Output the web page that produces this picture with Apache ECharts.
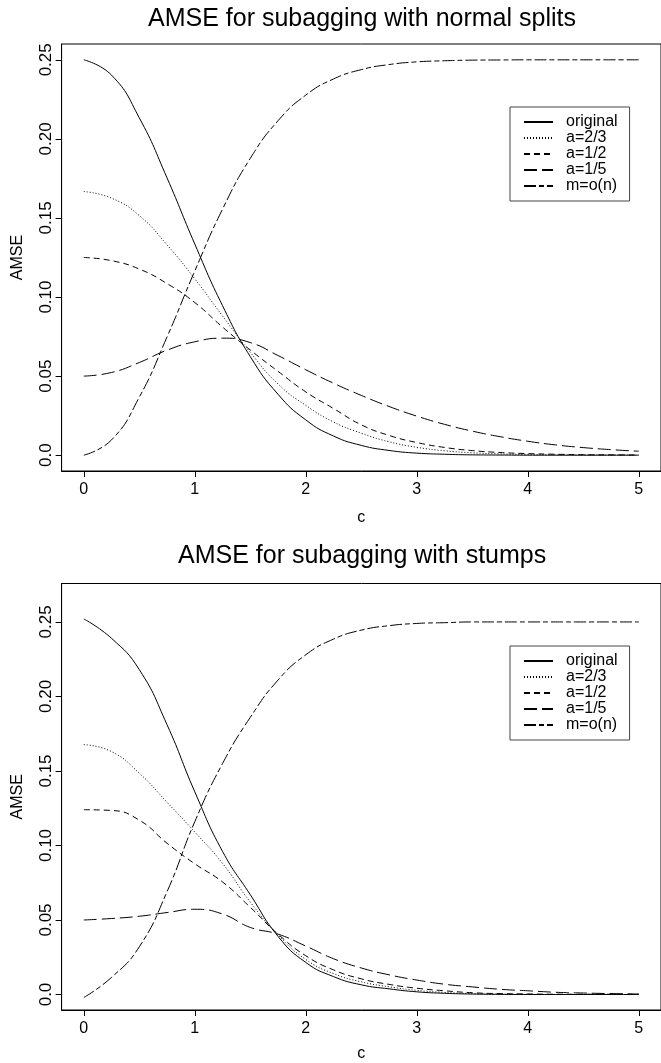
<!DOCTYPE html>
<html>
<head>
<meta charset="utf-8">
<style>
  html, body { margin: 0; padding: 0; background: #fff; }
  #chart { width: 661px; height: 1063px; }
</style>
</head>
<body>
<div id="chart"></div>
<script src="https://cdn.jsdelivr.net/npm/echarts@6/dist/echarts.min.js"></script>
<script>
"use strict";
// c grid, step 0.25
var cs = [0, 0.25, 0.5, 0.75, 1, 1.25, 1.5, 1.75, 2, 2.25, 2.5, 2.75, 3, 3.25, 3.5, 3.75, 4, 4.25, 4.5, 4.75, 5];
var xTicks = [0, 1, 2, 3, 4, 5];
var yTicks = [0, 0.05, 0.1, 0.15, 0.2, 0.25];
var names = ['original', 'a=2/3', 'a=1/2', 'a=1/5', 'm=o(n)'];

// normal splits (top)
var splitOrig = [0.2500, 0.2403, 0.2133, 0.1753, 0.1335, 0.0945, 0.0623, 0.0385, 0.0223, 0.0121, 0.0062, 0.0030, 0.0013, 0.0006, 0.0002, 0.0001, 0, 0, 0, 0, 0];
var splitA23 = [0.1667, 0.1625, 0.1515, 0.1330, 0.1115, 0.0880, 0.0650, 0.0450, 0.0315, 0.0210, 0.0139, 0.0085, 0.0050, 0.0028, 0.0015, 0.0008, 0.0004, 0.0002, 0.0001, 0.0001, 0];
var splitA12 = [0.1250, 0.1230, 0.1177, 0.1085, 0.0965, 0.0810, 0.0665, 0.0530, 0.0400, 0.0295, 0.0192, 0.0125, 0.0080, 0.0049, 0.0029, 0.0017, 0.0010, 0.0006, 0.0003, 0.0002, 0.0001];
var splitA15 = [0.0500, 0.0523, 0.0586, 0.0664, 0.0717, 0.0740, 0.0712, 0.0630, 0.0540, 0.0455, 0.0378, 0.0308, 0.0247, 0.0195, 0.0152, 0.0117, 0.0088, 0.0065, 0.0048, 0.0035, 0.0025];
var splitMon = [0, 0.0097, 0.0367, 0.0748, 0.1165, 0.1556, 0.1877, 0.2115, 0.2277, 0.2379, 0.2438, 0.2470, 0.2487, 0.2494, 0.2498, 0.2499, 0.25, 0.25, 0.25, 0.25, 0.25];

// stumps (bottom)
var stumpOrig = [0.2520, 0.2390, 0.2180, 0.1810, 0.1360, 0.0960, 0.0670, 0.0390, 0.0215, 0.0120, 0.0065, 0.0038, 0.0018, 0.0008, 0.0003, 0.0001, 0, 0, 0, 0, 0];
var stumpA23 = [0.1677, 0.1630, 0.1485, 0.1290, 0.1090, 0.0880, 0.0620, 0.0400, 0.0235, 0.0140, 0.0085, 0.0052, 0.0028, 0.0014, 0.0006, 0.0002, 0, 0, 0, 0, 0];
var stumpA12 = [0.1240, 0.1235, 0.1170, 0.1015, 0.0877, 0.0755, 0.0585, 0.0405, 0.0260, 0.0165, 0.0105, 0.0068, 0.0042, 0.0025, 0.0012, 0.0006, 0.0004, 0.0002, 0.0002, 0.0002, 0.0002];
var stumpA15 = [0.0500, 0.0510, 0.0525, 0.0550, 0.0572, 0.0540, 0.0450, 0.0405, 0.0325, 0.0240, 0.0178, 0.0132, 0.0097, 0.0069, 0.0051, 0.0035, 0.0025, 0.0015, 0.0010, 0.0006, 0.0003];
var stumpMon = [-0.0020, 0.0115, 0.0320, 0.0690, 0.1160, 0.1550, 0.1860, 0.2110, 0.2280, 0.2385, 0.2445, 0.2475, 0.2490, 0.2495, 0.2500, 0.2500, 0.2500, 0.2500, 0.2500, 0.2500, 0.2500];

var FONT = '"Liberation Sans", Arial, Helvetica, sans-serif';
var dashes = ['solid', [1, 2], [6, 4], [13, 5], [12, 3, 5, 3]];

function pairs(vals){ return cs.map(function(c, i){ return [c, vals[i]]; }); }

function makeSeries(sets, idx){
	return sets.map(function(vals, k){
		return { name: names[k], type: 'line', xAxisIndex: idx, yAxisIndex: idx,
			data: pairs(vals), showSymbol: false, symbol: 'none', smooth: 0.5,
			lineStyle: { color: '#000', width: 1, type: dashes[k] }, itemStyle: { color: '#000' },
			silent: true, animation: false };
	});
}

function xAx(idx, nameGap){
	return { type: 'value', gridIndex: idx, min: -0.2, max: 5.2,
		name: 'c', nameLocation: 'middle', nameGap: nameGap,
		nameTextStyle: { fontSize: 16, color: '#000', fontFamily: FONT },
		axisLine: { show: true, onZero: false, lineStyle: { color: '#000', width: 1 } },
		axisTick: { show: true, length: 6, customValues: xTicks, lineStyle: { color: '#000' } },
		axisLabel: { customValues: xTicks, fontSize: 16, color: '#000', fontFamily: FONT, margin: 11 },
		splitLine: { show: false } };
}

function yAx(idx, min, max){
	return { type: 'value', gridIndex: idx, min: min, max: max,
		name: 'AMSE', nameLocation: 'middle', nameGap: 36, nameRotate: 90,
		nameTextStyle: { fontSize: 16, color: '#000', fontFamily: FONT },
		axisLine: { show: true, onZero: false, lineStyle: { color: '#000', width: 1 } },
		axisTick: { show: true, length: 6, customValues: yTicks, lineStyle: { color: '#000' } },
		axisLabel: { customValues: yTicks, rotate: 90, fontSize: 17, color: '#000', fontFamily: FONT, margin: 7,
			formatter: function(v){ return v === 0 ? '0.0' : v.toFixed(2); } },
		splitLine: { show: false } };
}

function legendAt(top){
	return { data: names, orient: 'vertical', left: 510, top: top, selectedMode: false,
		itemWidth: 29, itemHeight: 13, itemGap: 0, padding: [7, 12, 7, 13],
		borderColor: '#444', borderWidth: 1, backgroundColor: '#fff',
		itemStyle: { opacity: 0 },
		textStyle: { fontSize: 16, lineHeight: 13, color: '#000', fontFamily: FONT, padding: [0, 0, 0, 8] } };
}

var option = {
	animation: false,
	title: [
		{ text: 'AMSE for subagging with normal splits', left: 143, top: 2,
		  textStyle: { fontSize: 25, fontWeight: 'normal', color: '#000', fontFamily: FONT } },
		{ text: 'AMSE for subagging with stumps', left: 173, top: 539,
		  textStyle: { fontSize: 25, fontWeight: 'normal', color: '#000', fontFamily: FONT } }
	],
	legend: [legendAt(107), legendAt(646)],
	grid: [
		{ left: 61.6, top: 44, width: 604.8, height: 427, show: true, borderColor: '#000', borderWidth: 1 },
		{ left: 61.6, top: 583.5, width: 604.8, height: 427.5, show: true, borderColor: '#000', borderWidth: 1 }
	],
	xAxis: [xAx(0, 39), xAx(1, 36)],
	yAxis: [yAx(0, -0.01, 0.26), yAx(1, -0.0104, 0.2758)],
	series: makeSeries([splitOrig, splitA23, splitA12, splitA15, splitMon], 0)
		.concat(makeSeries([stumpOrig, stumpA23, stumpA12, stumpA15, stumpMon], 1))
};

var myChart = echarts.init(document.getElementById('chart'));
myChart.setOption(option);
</script>
</body>
</html>
